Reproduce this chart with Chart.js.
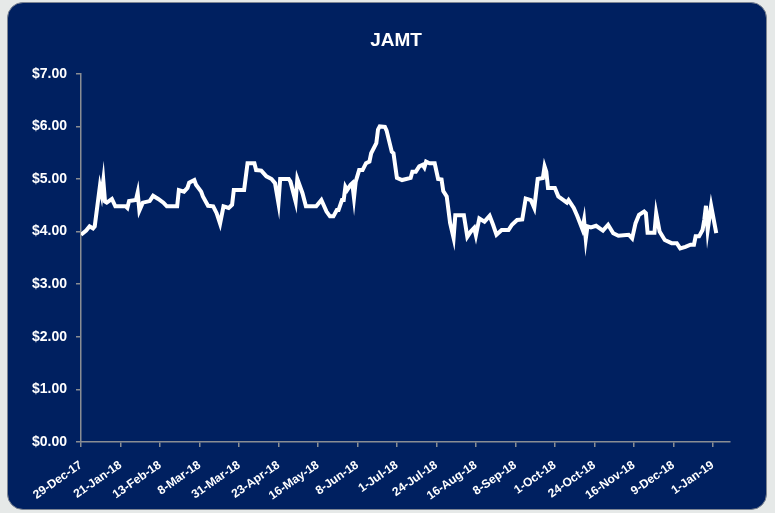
<!DOCTYPE html>
<html>
<head>
<meta charset="utf-8">
<script src="https://cdn.jsdelivr.net/npm/chart.js@4"></script>
<style>
  html, body { margin: 0; padding: 0; }
  body { width: 775px; height: 513px; background: #e6e9e8; position: relative; overflow: hidden; }
  .panel {
    position: absolute; left: 7px; top: 2px; width: 758px; height: 506px;
    background: #002060; border: 1.5px solid #7d8593; border-radius: 16px;
  }
  #wrap { position: absolute; left: 0; top: 0; width: 775px; height: 513px; }
</style>
</head>
<body>
<div class="panel"></div>
<div id="wrap"><canvas id="chart" width="775" height="513"></canvas></div>
<script>
// days counted from 29-Dec-17, prices in $
const startDate = Date.UTC(2017, 11, 29);
const tickDays = [0, 23, 46, 69, 92, 115, 138, 161, 184, 207, 230, 253, 276, 299, 322, 345, 368];
const monthNames = ["Jan", "Feb", "Mar", "Apr", "May", "Jun", "Jul", "Aug", "Sep", "Oct", "Nov", "Dec"];

const days = [
    0, 3, 5, 7, 8, 11, 12, 13, 14, 15, 18, 20, 26, 27, 28, 32, 33, 34, 36, 40,
    42, 45, 48, 50, 56, 57, 60, 62, 63, 66, 67, 70, 71, 74, 77, 79, 81, 83, 86, 88,
    89, 95, 97, 101, 102, 105, 108, 111, 113, 115, 116, 121, 122, 125, 126, 129, 131, 137, 140, 143,
    145, 147, 149, 150, 152, 153, 154, 155, 157, 158, 159, 160, 162, 164, 166, 168, 169, 172, 173, 174,
    177, 178, 181, 182, 184, 187, 192, 193, 195, 197, 199, 200, 201, 203, 206, 208, 210, 211, 213, 215,
    217, 218, 223, 225, 227, 229, 230, 232, 235, 238, 240, 242, 245, 249, 251, 254, 257, 259, 262, 264,
    266, 269, 270, 271, 272, 276, 278, 281, 283, 284, 287, 289, 292, 293, 294, 295, 297, 300, 304, 307,
    310, 313, 319, 321, 323, 325, 328, 329, 330, 334, 335, 337, 340, 344, 347, 349, 352, 355, 357, 358,
    360, 362, 363, 364, 365, 367, 370
];
const prices = [
    3.94, 4.02, 4.10, 4.06, 4.10, 4.86, 4.70, 4.97, 4.57, 4.55, 4.62, 4.48, 4.48, 4.45, 4.58, 4.60, 4.74, 4.40, 4.55, 4.58,
    4.68, 4.62, 4.55, 4.48, 4.48, 4.79, 4.76, 4.83, 4.93, 4.98, 4.89, 4.76, 4.67, 4.49, 4.48, 4.35, 4.15, 4.48, 4.45, 4.51,
    4.79, 4.79, 5.30, 5.30, 5.17, 5.16, 5.05, 5.00, 4.92, 4.54, 5.00, 5.00, 4.95, 4.57, 5.00, 4.73, 4.48, 4.48, 4.60, 4.38,
    4.29, 4.29, 4.41, 4.41, 4.60, 4.60, 4.85, 4.79, 4.89, 4.92, 4.64, 4.95, 5.17, 5.17, 5.30, 5.33, 5.49, 5.68, 5.94, 6.00,
    5.99, 5.92, 5.52, 5.49, 5.02, 4.98, 5.02, 5.14, 5.14, 5.24, 5.27, 5.22, 5.33, 5.30, 5.30, 5.00, 4.99, 4.77, 4.67, 4.16,
    3.88, 4.31, 4.31, 3.90, 4.00, 4.07, 3.93, 4.25, 4.19, 4.30, 4.13, 3.94, 4.03, 4.03, 4.13, 4.22, 4.23, 4.63, 4.60, 4.45,
    5.00, 5.02, 5.24, 5.14, 4.83, 4.83, 4.67, 4.60, 4.55, 4.60, 4.45, 4.30, 4.05, 4.22, 3.86, 4.10, 4.08, 4.11, 4.02, 4.13,
    3.97, 3.92, 3.94, 3.87, 4.16, 4.32, 4.38, 4.35, 3.98, 3.98, 4.35, 4.00, 3.84, 3.78, 3.78, 3.68, 3.71, 3.75, 3.75, 3.91,
    3.91, 4.03, 4.22, 4.49, 4.03, 4.49, 3.97
];

function formatDay(v) {
    const d = new Date(startDate + v * 86400000);
    return d.getUTCDate() + "-" + monthNames[d.getUTCMonth()] + "-" + String(d.getUTCFullYear() % 100).padStart(2, "0");
}

const axisGrey = "#8a8d93";
const labelFont = { family: "'Liberation Sans', Arial, sans-serif", weight: "bold" };

const ctx = document.getElementById("chart").getContext("2d");
new Chart(ctx, {
    type: "line",
    data: {
        datasets: [{
            label: "JAMT",
            data: days.map((d, i) => ({ x: d, y: prices[i] })),
            borderColor: "#ffffff",
            borderWidth: 4,
            pointRadius: 0,
            tension: 0,
            fill: false,
        }],
    },
    options: {
        responsive: false,
        animation: false,
        layout: { padding: { left: 17, right: 0, top: 0, bottom: 0 } },
        plugins: {
            legend: { display: false },
            tooltip: { enabled: false },
            title: {
                display: true,
                text: "JAMT",
                color: "#ffffff",
                font: { ...labelFont, size: 19 },
                padding: { top: 29, bottom: 22 },
            },
        },
        scales: {
            x: {
                type: "linear",
                min: 0,
                max: 378,
                afterBuildTicks: (scale) => { scale.ticks = tickDays.map((v) => ({ value: v })); },
                afterFit: (scale) => { scale.height = 71; },
                grid: { display: true, drawOnChartArea: false, color: axisGrey, tickLength: 5, lineWidth: 1.5 },
                border: { color: axisGrey, width: 1.5 },
                ticks: {
                    autoSkip: false,
                    minRotation: 35,
                    maxRotation: 35,
                    padding: 11,
                    color: "#ffffff",
                    font: { ...labelFont, size: 12 },
                    callback: (v) => formatDay(v),
                },
            },
            y: {
                min: 0,
                max: 7,
                afterFit: (scale) => { scale.width = 64; },
                grid: { display: true, drawOnChartArea: false, color: axisGrey, tickLength: 5, lineWidth: 1.5 },
                border: { color: axisGrey, width: 1.5 },
                ticks: {
                    stepSize: 1,
                    padding: 9,
                    color: "#ffffff",
                    font: { ...labelFont, size: 14 },
                    callback: (v) => "$" + v.toFixed(2),
                },
            },
            y2: {
                position: "right",
                display: true,
                afterFit: (scale) => { scale.width = 45; },
                grid: { display: false },
                border: { display: false },
                ticks: { display: false },
            },
        },
    },
});
</script>
</body>
</html>
